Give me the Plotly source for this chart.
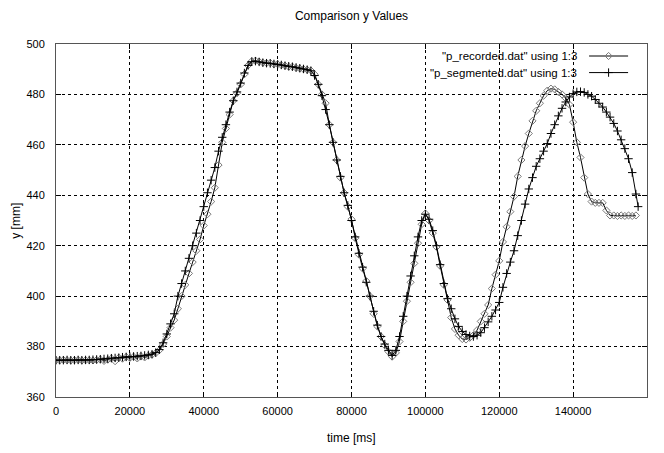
import plotly.graph_objects as go

# ---------------- data ----------------
recorded_time_ms = [
    0, 1000, 2000, 3000, 4000, 5000, 6000, 7000, 8000, 9000,
    10000, 11000, 12000, 13000, 14000, 15000, 16000, 17000, 18000, 19000,
    20000, 21000, 22000, 23000, 24000, 25000, 26000, 27000, 28000, 29000,
    30000, 31000, 32000, 33000, 34000, 35000, 36000, 37000, 38000, 39000,
    40000, 41000, 42000, 43000, 44000, 45000, 46000, 47000, 48000, 49000,
    50000, 51000, 52000, 53000, 54000, 55000, 56000, 57000, 58000, 59000,
    60000, 61000, 62000, 63000, 64000, 65000, 66000, 67000, 68000, 69000,
    70000, 71000, 72000, 73000, 74000, 75000, 76000, 77000, 78000, 79000,
    80000, 81000, 82000, 83000, 84000, 85000, 86000, 87000, 88000, 89000,
    90000, 91000, 92000, 93000, 94000, 95000, 96000, 97000, 98000, 99000,
    100000, 101000, 102000, 103000, 104000, 105000, 106000, 107000, 108000, 109000,
    110000, 111000, 112000, 113000, 114000, 115000, 116000, 117000, 118000, 119000,
    120000, 121000, 122000, 123000, 124000, 125000, 126000, 127000, 128000, 129000,
    130000, 131000, 132000, 133000, 134000, 135000, 136000, 137000, 138000, 139000,
    140000, 141000, 142000, 143000, 144000, 145000, 146000, 147000, 148000, 149000,
    150000, 151000, 152000, 153000, 154000, 155000, 156000, 157000,
]
recorded_y_mm = [
    374.6, 374.5, 374.7, 374.6, 374.5, 374.6, 374.7, 374.5, 374.6, 374.6,
    374.5, 374.7, 374.9, 374.3, 374.8, 375.3, 374.2, 375.6, 375.2, 375.9,
    375.5, 376.0, 375.3, 376.2, 375.7, 376.4, 376.8, 377.4, 378.6, 381.0,
    384.0, 387.5, 390.5, 395.0, 400.0, 404.5, 409.0, 413.5, 418.0, 422.5,
    428.0, 432.5, 437.5, 443.0, 452.0, 461.0, 466.5, 472.0, 477.5, 480.5,
    484.0, 488.0, 491.5, 493.2, 493.4, 493.0, 492.6, 492.4, 492.5, 492.0,
    492.0, 491.6, 491.4, 491.0, 491.0, 490.5, 490.3, 490.0, 489.8, 489.5,
    488.0, 484.0, 480.0, 476.5, 468.0, 461.0, 454.0, 447.0, 441.0, 435.5,
    430.5, 423.0, 416.5, 411.0, 406.0, 400.0, 393.0, 388.0, 384.0, 380.5,
    378.0, 376.0, 377.5, 382.0, 390.0, 398.0, 405.5, 413.0, 421.0, 428.5,
    432.8, 430.0, 425.0, 419.5, 412.0, 404.5, 398.5, 391.5, 387.0, 384.5,
    383.0, 382.8, 383.5, 384.5, 386.5, 390.0, 393.0, 396.5, 403.0, 408.5,
    414.0, 421.5, 427.5, 433.5, 439.5, 447.5, 454.0, 459.5, 464.5, 469.5,
    473.5, 476.5, 479.5, 481.5, 482.3, 482.0, 481.0, 480.0, 478.5, 476.0,
    469.0, 461.0, 455.0, 447.0, 440.5, 437.5, 437.0, 437.0, 437.0, 434.0,
    432.0, 432.0, 431.8, 432.0, 431.8, 432.0, 431.8, 432.0,
]

segmented_time_ms = [
    0, 1000, 2000, 3000, 4000, 5000, 6000, 7000, 8000, 9000,
    10000, 11000, 12000, 13000, 14000, 15000, 16000, 17000, 18000, 19000,
    20000, 21000, 22000, 23000, 24000, 25000, 26000, 27000, 28000, 29000,
    30000, 31000, 32000, 33000, 34000, 35000, 36000, 37000, 38000, 39000,
    40000, 41000, 42000, 43000, 44000, 45000, 46000, 47000, 48000, 49000,
    50000, 51000, 52000, 53000, 54000, 55000, 56000, 57000, 58000, 59000,
    60000, 61000, 62000, 63000, 64000, 65000, 66000, 67000, 68000, 69000,
    70000, 71000, 72000, 73000, 74000, 75000, 76000, 77000, 78000, 79000,
    80000, 81000, 82000, 83000, 84000, 85000, 86000, 87000, 88000, 89000,
    90000, 91000, 92000, 93000, 94000, 95000, 96000, 97000, 98000, 99000,
    100000, 101000, 102000, 103000, 104000, 105000, 106000, 107000, 108000, 109000,
    110000, 111000, 112000, 113000, 114000, 115000, 116000, 117000, 118000, 119000,
    120000, 121000, 122000, 123000, 124000, 125000, 126000, 127000, 128000, 129000,
    130000, 131000, 132000, 133000, 134000, 135000, 136000, 137000, 138000, 139000,
    140000, 141000, 142000, 143000, 144000, 145000, 146000, 147000, 148000, 149000,
    150000, 151000, 152000, 153000, 154000, 155000, 156000, 157000, 157600,
]
segmented_y_mm = [
    374.6, 374.6, 374.6, 374.7, 374.6, 374.6, 374.7, 374.6, 374.7, 374.7,
    374.8, 374.9, 375.0, 375.1, 375.2, 375.4, 375.5, 375.6, 375.8, 375.9,
    376.0, 376.1, 376.2, 376.3, 376.5, 376.7, 377.0, 377.6, 378.8, 381.5,
    385.0, 389.0, 393.0, 400.0, 405.0, 410.0, 415.0, 420.0, 425.0, 430.0,
    435.5, 441.0, 446.0, 451.0, 457.5, 463.0, 468.0, 473.0, 477.5, 481.0,
    484.5, 488.5, 491.5, 493.0, 493.2, 492.9, 492.6, 492.4, 492.3, 492.1,
    491.9, 491.7, 491.4, 491.2, 491.0, 490.7, 490.4, 490.1, 489.8, 489.4,
    487.5, 484.0, 479.5, 474.0, 468.0, 461.0, 454.0, 447.5, 441.0, 436.0,
    430.0, 423.5, 417.0, 411.5, 405.5, 400.0, 394.0, 388.5, 384.0, 381.0,
    378.5, 376.5, 378.5, 384.0, 392.0, 400.0, 408.0, 416.0, 423.5, 430.0,
    432.5, 430.5, 426.0, 420.0, 412.5, 405.0, 399.0, 395.0, 391.0, 388.0,
    386.0, 384.8, 384.2, 384.0, 384.5, 385.5, 387.5, 389.8, 392.0, 394.5,
    397.5, 403.5, 409.0, 413.5, 418.0, 424.0, 430.0, 436.5, 442.5, 447.0,
    451.5, 454.5, 457.5, 460.5, 464.5, 468.0, 471.5, 474.5, 477.0, 479.0,
    480.3, 481.0, 481.1, 480.8, 480.0, 479.3, 478.0, 476.5, 475.0, 473.0,
    471.0, 468.5, 465.5, 462.0, 458.5, 454.5, 449.0, 440.5, 435.5,
]

x_tick_values = [0, 20000, 40000, 60000, 80000, 100000, 120000, 140000, 160000]
x_tick_labels = ["0", "20000", "40000", "60000", "80000", "100000", "120000", "140000", "160000"]
y_tick_values = [360, 380, 400, 420, 440, 460, 480, 500]
y_tick_labels = ["360", "380", "400", "420", "440", "460", "480", "500"]

series_names = ['"p_recorded.dat" using 1:3', '"p_segmented.dat" using 1:3']

# ---------------- figure ----------------
FONT = "Liberation Sans, Arial, sans-serif"
fig = go.Figure()

fig.add_trace(go.Scatter(
    x=recorded_time_ms, y=recorded_y_mm, mode="lines+markers",
    line=dict(color="black", width=1),
    marker=dict(symbol="diamond-open", size=5.5, color="#7a7a7a", line=dict(width=1, color="#7a7a7a")),
    showlegend=False, name=series_names[0],
))
fig.add_trace(go.Scatter(
    x=segmented_time_ms, y=segmented_y_mm, mode="lines+markers",
    line=dict(color="black", width=1),
    marker=dict(symbol="cross-thin", size=6, color="black", line=dict(width=1, color="black")),
    showlegend=False, name=series_names[1],
))

# gnuplot-style key: text right-aligned, sample to its right (drawn on an overlay axis)
key_rows_y = [0.966, 0.919]
key_syms = [("diamond-open", 5.5, "#7a7a7a"), ("cross-thin", 6, "black")]
for (sym, sz, col), ky in zip(key_syms, key_rows_y):
    fig.add_trace(go.Scatter(
        x=[0.902, 0.968], y=[ky, ky], mode="lines", xaxis="x2", yaxis="y2",
        line=dict(color="black", width=1), showlegend=False, hoverinfo="skip"))
    fig.add_trace(go.Scatter(
        x=[0.935], y=[ky], mode="markers", xaxis="x2", yaxis="y2",
        marker=dict(symbol=sym, size=sz, color=col, line=dict(width=1, color=col)),
        showlegend=False, hoverinfo="skip"))

annotations = []
for name, ky in zip(series_names, key_rows_y):
    annotations.append(dict(text=name, xref="paper", yref="paper", x=0.885, y=ky,
                            xanchor="right", yanchor="middle", showarrow=False,
                            font=dict(family=FONT, size=11.5, color="black")))
annotations.append(dict(text="time [ms]", xref="paper", yref="paper", x=0.5, y=-0.116,
                        xanchor="center", yanchor="middle", showarrow=False,
                        font=dict(family=FONT, size=12, color="black")))
annotations.append(dict(text="y [mm]", xref="paper", yref="paper", x=-0.069, y=0.5,
                        xanchor="center", yanchor="middle", showarrow=False, textangle=-90,
                        font=dict(family=FONT, size=12, color="black")))

# opaque key area: hides the grid behind the key (gnuplot style)
key_box = dict(type="rect", xref="paper", yref="paper", x0=0.63, x1=0.997, y0=0.884, y1=0.997,
               fillcolor="white", line=dict(width=0), layer="between")

axis_common = dict(
    showgrid=True, gridcolor="black", gridwidth=1, griddash="3px,3px",
    showline=True, linecolor="#555555", linewidth=1, mirror="ticks",
    ticks="inside", ticklen=5, tickcolor="black", zeroline=False,
    tickfont=dict(family=FONT, size=11, color="black"),
)

fig.update_layout(
    width=664, height=453,
    margin=dict(l=56, r=17, t=44, b=56),
    paper_bgcolor="white", plot_bgcolor="white",
    font=dict(family=FONT, size=11, color="black"),
    title=dict(text="Comparison y Values", x=0.5, xref="paper", y=0.965, yanchor="middle",
               xanchor="center", font=dict(family=FONT, size=12, color="black")),
    xaxis=dict(range=[0, 160000], tickvals=x_tick_values, ticktext=x_tick_labels,
               ticklabelstandoff=4, **axis_common),
    yaxis=dict(range=[360, 500], tickvals=y_tick_values, ticktext=y_tick_labels,
               ticklabelstandoff=8, **axis_common),
    xaxis2=dict(range=[0, 1], overlaying="x", visible=False, fixedrange=True),
    yaxis2=dict(range=[0, 1], overlaying="y", visible=False, fixedrange=True),
    annotations=annotations,
    shapes=[key_box],
    showlegend=False,
    hovermode=False,
)

fig.write_html(
    "out.html",
    config={"displayModeBar": False, "staticPlot": True},
    post_script="document.body.style.margin='0';document.body.style.overflow='hidden';",
)
